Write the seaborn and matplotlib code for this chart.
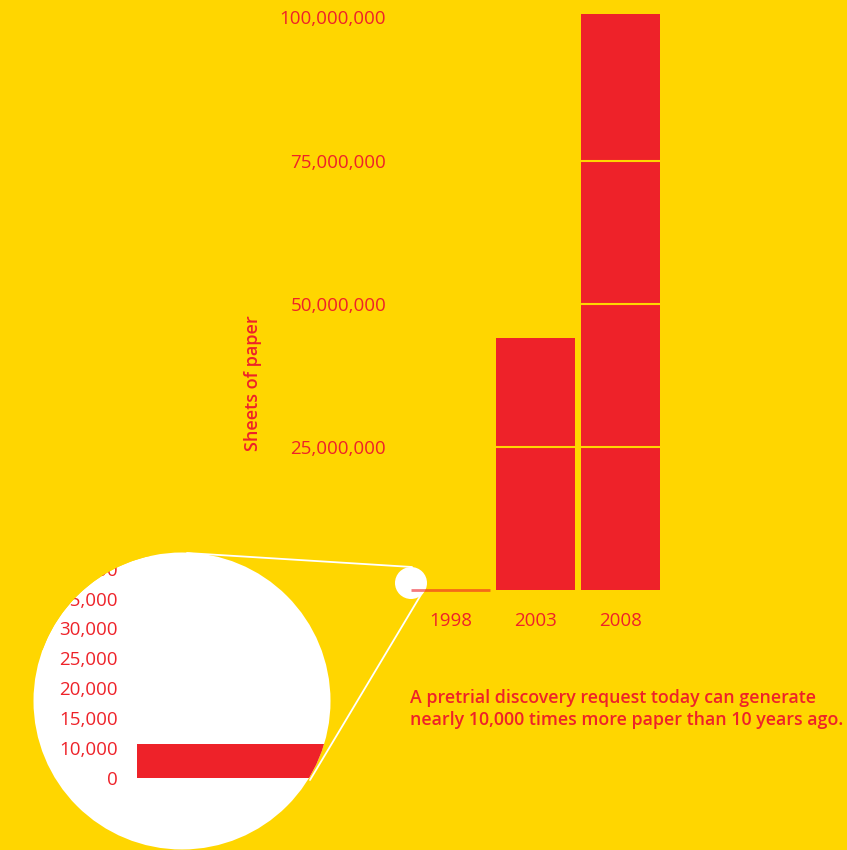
import numpy as np
import pandas as pd
import matplotlib
matplotlib.use('Agg')
import matplotlib.pyplot as plt
import seaborn as sns
from matplotlib.patches import Circle, Polygon
from matplotlib.lines import Line2D
from matplotlib.transforms import Affine2D
from matplotlib.ticker import FuncFormatter, NullLocator

# ---- data ----
years = ['1998', '2003', '2008']
sheets = [10700, 44000000, 100600000]
main_ticks = [25000000, 50000000, 75000000, 100000000]
inset_ticks = [0, 10000, 15000, 20000, 25000, 30000, 35000, 40000]
y_label = 'Sheets of paper'
note = ('A pretrial discovery request today can generate\n'
        'nearly 10,000 times more paper than 10 years ago.')

BG = '#FFD600'
RED = '#EE2229'
W, H = 847, 850

sns.set_theme(style='white')
plt.rcParams['font.family'] = ['Open Sans', 'DejaVu Sans']

fig = plt.figure(figsize=(W / 100, H / 100), dpi=100, facecolor=BG)
# pixel coordinates (origin top-left) -> figure
T = Affine2D().scale(1 / W, -1 / H).translate(0, 1) + fig.transFigure


def ax_rect(l, t, r, b):
    return [l / W, 1 - b / H, (r - l) / W, (b - t) / H]


# ---- main chart ----
ax = fig.add_axes(ax_rect(400, 10, 670, 590))
df = pd.DataFrame({'year': years, 'sheets': sheets})
sns.barplot(data=df, x='year', y='sheets', color=RED, saturation=1,
            width=0.93, linewidth=0, ax=ax)
ax.set_xlim(-0.594, 2.582)
ax.set_ylim(0, 101300000)
ax.set_facecolor('none')
for s in ax.spines.values():
    s.set_visible(False)
ax.set_xlabel('')
ax.set_ylabel('')
ax.set_yticks(main_ticks)
ax.yaxis.set_major_formatter(FuncFormatter(lambda v, p: f'{v:,.0f}'))
ax.tick_params(axis='both', length=0, colors=RED, labelsize=13.5)
ax.tick_params(axis='y', pad=10)
ax.tick_params(axis='x', pad=16)
# grid lines crossing the bars (same colour as the background)
for t in main_ticks[:-1]:
    ax.axhline(t, color=BG, lw=1.5, zorder=2)

# tiny 1998 bar: too small to see, drawn as a translucent line along its base
p0 = ax.patches[0]
x0, w0 = p0.get_x(), p0.get_width()
ax.plot([x0, x0 + w0], [p0.get_y(), p0.get_y()], color=RED, alpha=0.6,
        lw=2, solid_capstyle='butt', clip_on=False, zorder=3)

small = Circle((411, 583), 16, transform=T, fc='white', ec='none',
               zorder=0.5, clip_on=False)
ax.add_patch(small)

fig.text(253, 383, y_label, transform=T, rotation=90, ha='center',
         va='center', color=RED, fontsize=13, fontweight='semibold')

fig.text(410, 709, note, transform=T, ha='left', va='center', color=RED,
         fontsize=12.8, fontweight='semibold', linespacing=1.3)

# ---- inset magnifier ----
ax_in = fig.add_axes(ax_rect(137, 540, 345, 850))
cx, cy, r = 182, 701, 148.5
big = Circle((cx, cy), r, transform=T, fc='white', ec='none',
             zorder=0, clip_on=False)
ax_in.add_patch(big)


def fwd(v):
    v = np.asarray(v, dtype=float)
    return np.where(v < 10000, v / 10000, 1 + (v - 10000) / 5000)


def inv(u):
    u = np.asarray(u, dtype=float)
    return np.where(u < 1, u * 10000, 10000 + (u - 1) * 5000)


ax_in.set_yscale('function', functions=(fwd, inv))
sns.barplot(x=[years[0]], y=[sheets[0]], color=RED, saturation=1, width=1,
            linewidth=0, ax=ax_in)
ax_in.set_xlim(-0.5, 0.5)
ax_in.set_ylim(float(inv(-2.41)), float(inv(7.96)))
for bar in list(ax_in.patches):
    if bar is not big:
        bar.set_clip_path(big)
        bar.set_zorder(1)
ax_in.set_facecolor('none')
for s in ax_in.spines.values():
    s.set_visible(False)
ax_in.set_xticks([])
ax_in.set_xlabel('')
ax_in.set_ylabel('')
ax_in.set_yticks(inset_ticks)
ax_in.set_yticklabels([f'{v:,}' for v in inset_ticks])
ax_in.yaxis.set_minor_locator(NullLocator())
ax_in.tick_params(axis='y', length=0, colors=RED, labelsize=13.5, pad=13.7)

# mask hiding label parts outside the magnifier circle (simple polygon)
xr, yb = 150, 650
a_start = np.arctan2(-np.sqrt(r**2 - (xr - cx)**2), xr - cx) + 2 * np.pi
a_end = np.arctan2(yb - cy, -np.sqrt(r**2 - (yb - cy)**2)) + 2 * np.pi
aa = np.linspace(a_start, a_end, 200)
arc = [(cx + r * np.cos(a), cy + r * np.sin(a)) for a in aa]
poly = [(20, 535), (xr, 535)] + arc + [(20, yb)]
mask = Polygon(poly, closed=True, transform=T, fc=BG, ec='none',
               zorder=10, clip_on=False)
ax_in.add_patch(mask)

# connector lines
for (x1, y1), (x2, y2) in [((187, 553), (412, 567)), ((310, 780), (422, 593))]:
    ax_in.add_line(Line2D([x1, x2], [y1, y2], transform=T, color='white',
                          lw=1.3, zorder=0.6, clip_on=False))

fig.savefig('out.png', dpi=100, facecolor=BG)
